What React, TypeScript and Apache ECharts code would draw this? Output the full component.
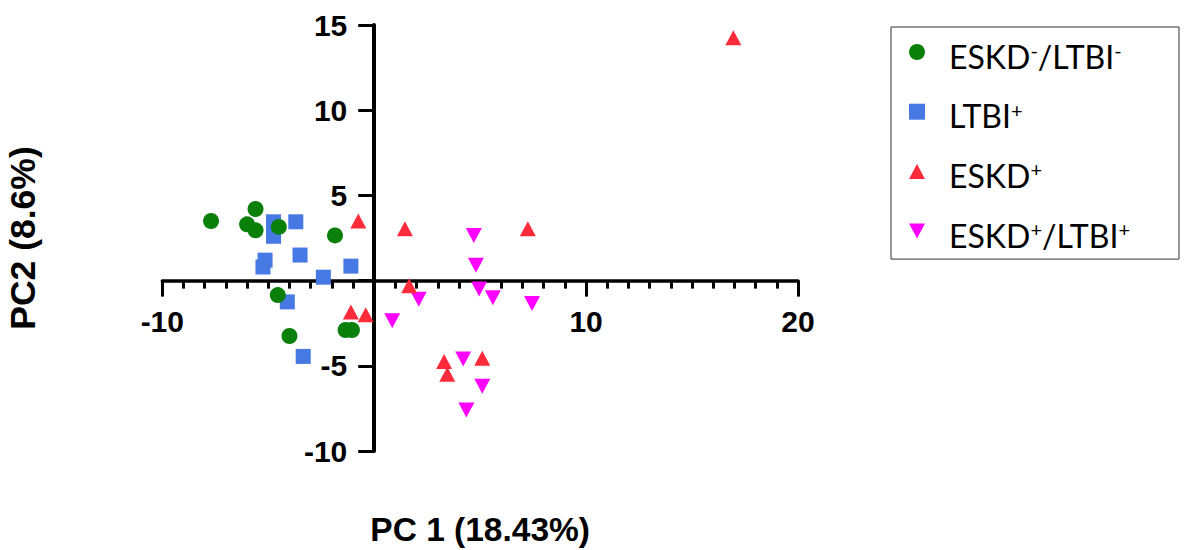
import React, { useEffect, useRef } from "react";
import * as echarts from "echarts";

const seriesNames = ["ESKD-/LTBI-", "LTBI+", "ESKD+", "ESKD+/LTBI+"];
const legendLabels: Record<string, string> = {
  "ESKD-/LTBI-": "{f|ESKD}{s|-}{a|/LTBI}{s|-}",
  "LTBI+": "{f|LTBI}{s|+}",
  "ESKD+": "{f|ESKD}{s|+}",
  "ESKD+/LTBI+": "{f|ESKD}{s|+}{a|/LTBI}{s|+}",
};

const eskdNegLtbiNeg: number[][] = [
  [-7.7, 3.5], [-5.6, 4.2], [-6.0, 3.3], [-5.6, 2.95], [-4.5, 3.15],
  [-1.85, 2.65], [-4.55, -0.85], [-4.0, -3.25], [-1.35, -2.9], [-1.05, -2.9],
];
const ltbiPos: number[][] = [
  [-4.75, 3.45], [-4.75, 2.6], [-3.7, 3.45], [-3.5, 1.5], [-5.15, 1.2],
  [-5.25, 0.8], [-2.4, 0.2], [-1.1, 0.85], [-4.1, -1.25], [-3.35, -4.45],
];
const eskdPos: number[][] = [
  [-0.75, 3.5], [1.45, 3.05], [7.25, 3.05], [1.65, -0.3], [-1.1, -1.85],
  [-0.4, -2.0], [3.3, -4.75], [3.45, -5.5], [5.1, -4.55], [16.95, 14.25],
];
const eskdPosLtbiPos: number[][] = [
  [4.7, 2.65], [4.8, 0.9], [4.95, -0.5], [5.6, -1.0], [7.45, -1.35],
  [2.1, -1.1], [0.85, -2.35], [4.2, -4.6], [5.1, -6.2], [4.35, -7.6],
];

const xTicks = { min: -10, max: 20, interval: 10 };
const yTicks = { min: -10, max: 15, interval: 5 };

const colors = {
  green: "#0A800A",
  blue: "#4679E3",
  red: "#FF2A3A",
  magenta: "#FF00FF",
};

export default function App() {
  const ref = useRef<HTMLDivElement>(null);
  useEffect(() => {
    if (!ref.current) return;
    const chart = echarts.init(ref.current, null, { renderer: "svg" });
    const labelFont = {
      fontSize: 30,
      fontWeight: "bold" as const,
      color: "#000",
      fontFamily: "Liberation Sans",
    };
    chart.setOption({
      animation: false,
      backgroundColor: "#fff",
      grid: {
        left: 162.3,
        right: 397,
        top: 25,
        bottom: 99,
        outerBoundsMode: "none",
      },
      xAxis: {
        type: "value",
        min: xTicks.min,
        max: xTicks.max,
        interval: xTicks.interval,
        name: "PC 1 (18.43%)",
        nameLocation: "middle",
        nameGap: 61,
        nameTextStyle: { fontSize: 33.5, fontWeight: "bold", color: "#000", fontFamily: "Liberation Sans" },
        axisLine: { onZero: true, lineStyle: { color: "#000", width: 3.5 } },
        axisTick: { length: 16, lineStyle: { color: "#000", width: 3 } },
        minorTick: { show: true, splitNumber: 10, length: 8, lineStyle: { color: "#000", width: 3 } },
        splitLine: { show: false },
        minorSplitLine: { show: false },
        axisLabel: {
          ...labelFont,
          margin: -145,
          formatter: (v: number) => (v === 0 ? "" : String(v)),
        },
      },
      yAxis: {
        type: "value",
        min: yTicks.min,
        max: yTicks.max,
        interval: yTicks.interval,
        name: "PC2 (8.6%)",
        nameLocation: "middle",
        nameGap: 121,
        nameTextStyle: { fontSize: 35.5, fontWeight: "bold", color: "#000", fontFamily: "Liberation Sans" },
        axisLine: { onZero: true, lineStyle: { color: "#000", width: 4 } },
        axisTick: { length: 16, lineStyle: { color: "#000", width: 3 } },
        splitLine: { show: false },
        axisLabel: {
          ...labelFont,
          margin: -185,
          formatter: (v: number) => (v === 0 ? "" : String(v)),
        },
      },
      legend: {
        orient: "vertical",
        left: 891,
        top: 27,
        padding: [5, 49, 8, 18],
        borderColor: "#333",
        borderWidth: 1,
        itemWidth: 16,
        itemHeight: 16,
        itemGap: 19.7,
        data: [
          { name: seriesNames[0], icon: "circle" },
          { name: seriesNames[1], icon: "rect" },
          { name: seriesNames[2], icon: "path://M8,0L16,15L0,15Z" },
          { name: seriesNames[3], icon: "path://M0,0L16,0L8,15Z" },
        ],
        formatter: (name: string) => legendLabels[name] || name,
        textStyle: {
          color: "#000",
          fontFamily: "Lato",
          fontSize: 32,
          rich: {
            f: { fontFamily: "Lato", fontSize: 32, color: "#000", lineHeight: 40, padding: [8, 0, 0, 19] },
            a: { fontFamily: "Lato", fontSize: 32, color: "#000", lineHeight: 40, padding: [8, 0, 0, 0] },
            s: { fontFamily: "Lato", fontSize: 20, color: "#000", lineHeight: 26, verticalAlign: "top", padding: [8, 0, 0, 0] },
          },
        },
      },
      series: [
        {
          name: "LTBI+",
          type: "scatter",
          symbol: "rect",
          symbolSize: 15,
          itemStyle: { color: colors.blue, opacity: 1 },
          data: ltbiPos,
        },
        {
          name: "ESKD+/LTBI+",
          type: "scatter",
          symbol: "triangle",
          symbolRotate: 180,
          symbolSize: [16, 15],
          itemStyle: { color: colors.magenta, opacity: 1 },
          data: eskdPosLtbiPos,
        },
        {
          name: "ESKD+",
          type: "scatter",
          symbol: "triangle",
          symbolSize: [16, 15],
          itemStyle: { color: colors.red, opacity: 1 },
          data: eskdPos,
        },
        {
          name: "ESKD-/LTBI-",
          type: "scatter",
          symbol: "circle",
          symbolSize: 16,
          itemStyle: { color: colors.green, opacity: 1 },
          data: eskdNegLtbiNeg,
        },
      ],
    });
    return () => chart.dispose();
  }, []);
  return (
    <div
      ref={ref}
      style={{ position: "fixed", left: 0, top: 0, width: 1195, height: 550 }}
    />
  );
}
